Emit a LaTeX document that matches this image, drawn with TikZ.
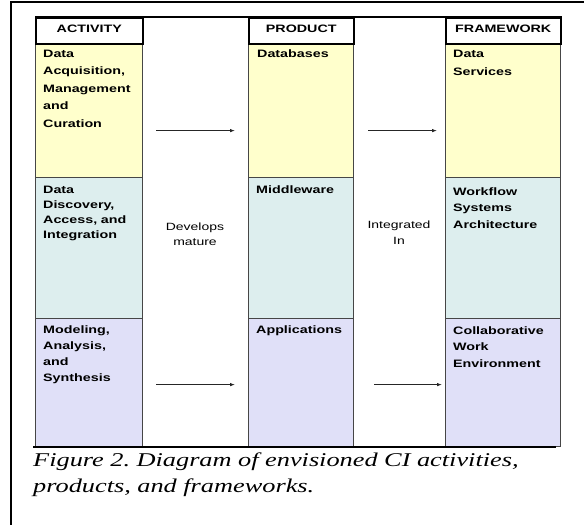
\documentclass[tikz,border=0pt]{standalone}
\usepackage{fontspec}
\newfontfamily\cellfont[FakeStretch=1.33]{Liberation Sans}
\newfontfamily\capfont[FakeStretch=1.35]{Liberation Serif}
\usetikzlibrary{positioning,arrows.meta}
\definecolor{rowyellow}{RGB}{255,255,204}
\definecolor{rowblue}{RGB}{221,238,238}
\definecolor{rowviolet}{RGB}{224,224,248}
\definecolor{gridgray}{RGB}{70,70,70}
\tikzstyle{cell} = [draw=gridgray, line width=1.2pt, rectangle, anchor=north west,
    inner sep=0pt]
\tikzstyle{head} = [draw=black, line width=1.5pt, fill=white, rectangle, anchor=north west,
    inner sep=0pt, minimum height=26pt, text height=7.7pt, text depth=4.7pt,
    font=\cellfont\bfseries\fontsize{10.75}{13}\selectfont]
\tikzstyle{entry} = [anchor=base west, inner sep=0pt, text width=115pt, align=left]
\tikzstyle{note} = [anchor=base, inner sep=0pt, text width=80pt, align=center,
    font=\cellfont\fontsize{10.5}{15.5}\selectfont]
\tikzstyle{flow} = [draw=black!85, line width=0.8pt, -{Latex[length=5pt,width=3.5pt]}]

\begin{document}
\begin{tikzpicture}[x=1pt, y=-1pt, >=latex]
	  \useasboundingbox (0,0) rectangle (584,525);
	  \fill[white] (0,0) rectangle (584,525);
	  \draw[line width=2pt] (11,525) -- (11,2) -- (584,2);
	  % rows
	  \node [cell, fill=rowyellow, minimum width=107pt, minimum height=134pt] (actA) at (35,43) {};
	  \node [cell, fill=rowblue, minimum width=107pt, minimum height=141pt] (actB) at (35,177) {};
	  \node [cell, fill=rowviolet, minimum width=107pt, minimum height=128pt] (actC) at (35,318) {};
	  \node [cell, fill=rowyellow, minimum width=105pt, minimum height=134pt] (prdA) at (248,43) {};
	  \node [cell, fill=rowblue, minimum width=105pt, minimum height=141pt] (prdB) at (248,177) {};
	  \node [cell, fill=rowviolet, minimum width=105pt, minimum height=128pt] (prdC) at (248,318) {};
	  \node [cell, fill=rowyellow, minimum width=115pt, minimum height=134pt] (frmA) at (445,43) {};
	  \node [cell, fill=rowblue, minimum width=115pt, minimum height=141pt] (frmB) at (445,177) {};
	  \node [cell, fill=rowviolet, minimum width=115pt, minimum height=128pt] (frmC) at (445,318) {};
	  % open columns
	  \node [cell, minimum width=106pt, minimum height=429pt] (dev) at (142,17) {};
	  \node [cell, minimum width=92pt, minimum height=429pt] (intg) at (353,17) {};
	  % headers
	  \node [head, minimum width=107pt] (actH) at (35,17) {ACTIVITY};
	  \node [head, minimum width=105pt] (prdH) at (248,17) {PRODUCT};
	  \node [head, minimum width=115pt] (frmH) at (445,17) {FRAMEWORK};
	  \draw [line width=1.5pt] (actH.north west) -- (frmH.north east);
	  % cell texts
	  \node [entry, font=\cellfont\bfseries\fontsize{10.75}{17.4}\selectfont] (actAt)
	    at ([shift={(8,14.5)}]actA.north west) {Data\\Acquisition,\\Management\\and\\Curation};
	  \node [entry, font=\cellfont\bfseries\fontsize{10.75}{15}\selectfont] (actBt)
	    at ([shift={(8,16)}]actB.north west) {Data\\Discovery,\\Access, and\\Integration};
	  \node [entry, font=\cellfont\bfseries\fontsize{10.75}{16}\selectfont] (actCt)
	    at ([shift={(8,15)}]actC.north west) {Modeling,\\Analysis,\\and\\Synthesis};
	  \node [entry, font=\cellfont\bfseries\fontsize{10.75}{17}\selectfont] (prdAt)
	    at ([shift={(9,14)}]prdA.north west) {Databases};
	  \node [entry, font=\cellfont\bfseries\fontsize{10.75}{17}\selectfont] (prdBt)
	    at ([shift={(8,16)}]prdB.north west) {Middleware};
	  \node [entry, font=\cellfont\bfseries\fontsize{10.75}{17}\selectfont] (prdCt)
	    at ([shift={(8,15)}]prdC.north west) {Applications};
	  \node [entry, font=\cellfont\bfseries\fontsize{10.75}{18}\selectfont] (frmAt)
	    at ([shift={(8,14)}]frmA.north west) {Data\\Services};
	  \node [entry, font=\cellfont\bfseries\fontsize{10.75}{16.5}\selectfont] (frmBt)
	    at ([shift={(8,18)}]frmB.north west) {Workflow\\Systems\\Architecture};
	  \node [entry, font=\cellfont\bfseries\fontsize{10.75}{16.5}\selectfont] (frmCt)
	    at ([shift={(8,16)}]frmC.north west) {Collaborative\\Work\\Environment};
	  \node [note] (devt) at (195,230) {Develops\\mature};
	  \node [note] (intgt) at (399,228.5) {Integrated\\In};
	  % arrows
	  \draw [flow] ([shift={(13,20)}]actA.east) -- ([shift={(-13,20)}]prdA.west);
	  \draw [flow] ([shift={(14,20)}]prdA.east) -- ([shift={(-8,20)}]frmA.west);
	  \draw [flow] ([shift={(13,2)}]actC.east) -- ([shift={(-13,2)}]prdC.west);
	  \draw [flow] ([shift={(20,2)}]prdC.east) -- ([shift={(-3,2)}]frmC.west);
	  \draw [line width=2.2pt] ([xshift=-2pt]actC.south west) -- ([xshift=-5pt]frmC.south east);
	  % caption
	  \node [anchor=base west, inner sep=0pt, text width=540pt, align=left,
	    font=\capfont\itshape\fontsize{19.5}{26}\selectfont\frenchspacing] (caption) at (33,466.7)
	    {Figure 2. Diagram of envisioned CI activities,\\products, and frameworks.};
\end{tikzpicture}
\end{document}
